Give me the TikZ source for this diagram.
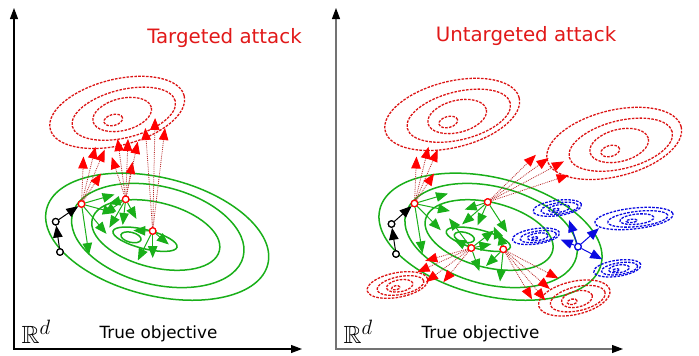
\documentclass[tikz,border=0pt]{standalone}
\usepackage{fontspec}
\setmainfont{DejaVu Sans}
\usepackage{amssymb}
\usetikzlibrary{arrows.meta}
\definecolor{ttred}{RGB}{225,25,25}
\definecolor{elred}{RGB}{220,20,20}
\definecolor{gr}{RGB}{25,175,25}
\definecolor{bl}{RGB}{10,10,225}
\definecolor{dotred}{RGB}{185,45,45}
\tikzset{
  tip/.style={-{Triangle[length=12pt,width=9.5pt]}},
  gell/.style={draw=gr, line width=1.5pt},
  rell/.style={draw=elred, line width=1.3pt, dash pattern=on 2.6pt off 1.3pt},
  bell/.style={draw=bl, line width=1.3pt, dash pattern=on 2.6pt off 1.3pt},
  garr/.style={draw=gr, line width=1pt, tip},
  rarr/.style={draw=dotred, line width=0.8pt, dash pattern=on 0.9pt off 1pt, -{Triangle[length=12pt,width=9.5pt,color=red]}},
  barr/.style={draw=bl, line width=1pt, tip},
  karr/.style={draw=black, line width=1pt, tip},
  rpt/.style={circle, draw=red, fill=white, line width=1.2pt, inner sep=0pt, minimum size=6.5pt},
  kpt/.style={circle, draw=black, fill=white, line width=1.2pt, inner sep=0pt, minimum size=6.5pt},
  bpt/.style={circle, draw=bl, fill=white, line width=1.2pt, inner sep=0pt, minimum size=6.5pt},
  titletxt/.style={text=ttred, font=\fontsize{19.8}{23}\selectfont, anchor=base},
  axtxt/.style={font=\fontsize{16.8}{20}\selectfont, anchor=base},
  rdtxt/.style={font=\fontsize{24.88}{30}\selectfont, anchor=base west, inner sep=0pt},
}
\newcommand\ellgroup[1]{%
  \draw[#1, rotate around={14:(0,0)}] (0,0) ellipse [x radius=69pt, y radius=33pt];
  \draw[#1, rotate around={14:(6.6,1.3)}] (6.6,1.3) ellipse [x radius=53pt, y radius=24pt];
  \draw[#1, rotate around={14:(5,2.1)}] (5,2.1) ellipse [x radius=30pt, y radius=16pt];
  \draw[#1, rotate around={14:(-3.9,7.6)}] (-3.9,7.6) ellipse [x radius=9.5pt, y radius=5.5pt];
}
\newcommand\greengroup{%
  \draw[gell, rotate around={-14:(157.2,236.7)}] (157.2,236.7) ellipse [x radius=114pt, y radius=59pt];
  \draw[gell, rotate around={-14:(157.8,235.5)}] (157.8,235.5) ellipse [x radius=88pt, y radius=49pt];
  \draw[gell, rotate around={-14:(155.8,235)}] (155.8,235) ellipse [x radius=65.5pt, y radius=32.5pt];
  \draw[gell, rotate around={-14:(145,239.2)}] (145,239.2) ellipse [x radius=33pt, y radius=9.5pt];
  \draw[gell, rotate around={-14:(131,237.3)}] (131,237.3) ellipse [x radius=10.3pt, y radius=5pt];
}
\begin{document}
\begin{tikzpicture}[x=1pt,y=-1pt]
\useasboundingbox (0,0) rectangle (699,356);

% ---------- axes ----------
\coordinate (oA) at (14,349);
\coordinate (yA) at (14,8);
\coordinate (xA) at (302,349);
\draw[line width=1.1pt, {Triangle[length=11pt,width=8pt]}-{Triangle[length=11pt,width=8pt]}] (yA) -- (oA) -- (xA);
\coordinate (oB) at (336,349);
\coordinate (yB) at (336,8);
\coordinate (xB) at (623,349);
\draw[line width=1.1pt, draw=black!55, {Triangle[length=11pt,width=8pt,color=black]}-{Triangle[length=11pt,width=8pt,color=black]}] (yB) -- (oB) -- (xB);

% ---------- texts ----------
\node[titletxt] (tA) at (224.5,43.3) {Targeted attack};
\node[titletxt] (tB) at (526,41.7) {Untargeted attack};
\node[axtxt] (xlA) at (158.5,338) {True objective};
\node[axtxt] (xlB) at (480.5,338) {True objective};
\node[rdtxt] (rdA) at (21.5,343.5) {$\mathbb{R}^d$};
\node[rdtxt] (rdB) at (343.5,343.5) {$\mathbb{R}^d$};

% ---------- ellipses ----------
\greengroup
\begin{scope}[shift={(333.3,0)}]
  \greengroup
\end{scope}
\begin{scope}[shift={(117.2,112.4)}] \ellgroup{rell} \end{scope}
\begin{scope}[shift={(452.2,114.4)}] \ellgroup{rell} \end{scope}
\begin{scope}[shift={(614.2,143.4)}] \ellgroup{rell} \end{scope}
\begin{scope}[shift={(397.5,285)}, xscale=0.45, yscale=0.37] \ellgroup{rell} \end{scope}
\begin{scope}[shift={(574.3,298)}, xscale=0.53, yscale=0.5] \ellgroup{rell} \end{scope}
\begin{scope}[shift={(557.3,208)}, xscale=0.36, yscale=0.23] \ellgroup{bell} \end{scope}
\begin{scope}[shift={(634,218.5)}, xscale=0.58, yscale=0.31] \ellgroup{bell} \end{scope}
\begin{scope}[shift={(536,236.3)}, xscale=0.35, yscale=0.23] \ellgroup{bell} \end{scope}
\begin{scope}[shift={(617.3,268.3)}, xscale=0.35, yscale=0.24] \ellgroup{bell} \end{scope}

% ---------- points ----------
\node[kpt] (b2) at (60,252) {};
\node[kpt] (b1) at (55.7,221.7) {};
\node[rpt] (p1) at (81.5,204) {};
\node[rpt] (p2) at (125.7,199.3) {};
\node[rpt] (p3) at (152.7,231) {};
\node[kpt] (b2r) at (396,254) {};
\node[kpt] (b1r) at (391.5,224) {};
\node[rpt] (p1r) at (414.5,203.5) {};
\node[rpt] (p4) at (487.7,202) {};
\node[rpt] (p5) at (471.3,248) {};
\node[rpt] (p6) at (503.3,249.3) {};
\node[bpt] (q) at (578,246.7) {};

% ---------- black arrows ----------
\draw[karr] (b2) -- (b1);
\draw[karr] (b1) -- (p1);
\draw[karr] (b2r) -- (b1r);
\draw[karr] (b1r) -- (p1r);

% ---------- green arrows ----------
\foreach \i/\x/\y in {1/114.5/194.5, 2/114.8/213, 3/106.5/233.9, 4/89/255}
  {\coordinate (ga\i) at (\x,\y); \draw[garr] (p1) -- (ga\i);}
\foreach \i/\x/\y in {1/108.5/204, 2/103.5/214, 3/109.3/227.7, 4/122.7/225, 5/136.4/218.9}
  {\coordinate (gb\i) at (\x,\y); \draw[garr] (p2) -- (gb\i);}
\foreach \i/\x/\y in {1/133.3/230.5, 2/137.8/260.5, 3/152.7/258, 4/168.8/244.5}
  {\coordinate (gc\i) at (\x,\y); \draw[garr] (p3) -- (gc\i);}
\foreach \i/\x/\y in {1/448/193.6, 2/450/211, 3/440.8/230.2, 4/422.5/253.3}
  {\coordinate (gd\i) at (\x,\y); \draw[garr] (p1r) -- (gd\i);}
\foreach \i/\x/\y in {1/464.7/209.6, 2/462.2/224.3, 3/477.5/225.3, 4/507.2/232.2}
  {\coordinate (ge\i) at (\x,\y); \draw[garr] (p4) -- (ge\i);}
\foreach \i/\x/\y in {1/449/218.3, 2/453.8/239.5, 3/494/230.5, 4/491.4/244, 5/479.4/271.2}
  {\coordinate (gf\i) at (\x,\y); \draw[garr] (p5) -- (gf\i);}
\foreach \i/\x/\y in {1/500/233, 2/493.8/226.7, 3/486/266, 4/500/281.5}
  {\coordinate (gg\i) at (\x,\y); \draw[garr] (p6) -- (gg\i);}

% ---------- blue arrows ----------
\foreach \i/\x/\y in {1/569.1/220.2, 2/599/228.2, 3/560.7/239.6, 4/602.2/259.3}
  {\coordinate (bq\i) at (\x,\y); \draw[barr] (q) -- (bq\i);}

% ---------- red dotted arrows ----------
\foreach \i/\x/\y in {1/83.5/156.5, 2/95.5/146.8, 3/104.7/149.7, 4/101/173.5}
  {\coordinate (ra\i) at (\x,\y); \draw[rarr] (p1) -- (ra\i);}
\foreach \i/\x/\y in {1/111.8/157, 2/132.6/161.8, 3/117.6/139, 4/128/139, 5/137.7/141.8}
  {\coordinate (rb\i) at (\x,\y); \draw[rarr] (p2) -- (rb\i);}
\foreach \i/\x/\y in {1/145.3/128, 2/155.1/118, 3/165/128}
  {\coordinate (rc\i) at (\x,\y); \draw[rarr] (p3) -- (rc\i);}
\foreach \i/\x/\y in {1/416.5/156.5, 2/428.5/146.8, 3/437.7/149.7, 4/434/173.5}
  {\coordinate (rd\i) at (\x,\y); \draw[rarr] (p1r) -- (rd\i);}
\foreach \i/\x/\y in {1/535.9/154.8, 2/548.6/158, 3/563.9/161.4, 4/568.7/175.1}
  {\coordinate (re\i) at (\x,\y); \draw[rarr] (p4) -- (re\i);}
\foreach \i/\x/\y in {1/425.2/260.8, 2/417.5/272, 3/426/282, 4/443.3/282.2}
  {\coordinate (rf\i) at (\x,\y); \draw[rarr] (p5) -- (rf\i);}
\foreach \i/\x/\y in {1/558.4/278.4, 2/549.8/289, 3/532/299.3, 4/545.2/300.4}
  {\coordinate (rg\i) at (\x,\y); \draw[rarr] (p6) -- (rg\i);}

% redraw points on top
\foreach \n in {b2,b1,b2r,b1r} {\node[kpt] at (\n) {};}
\foreach \n in {p1,p2,p3,p1r,p4,p5,p6} {\node[rpt] at (\n) {};}
\node[bpt] at (q) {};
\end{tikzpicture}
\end{document}
